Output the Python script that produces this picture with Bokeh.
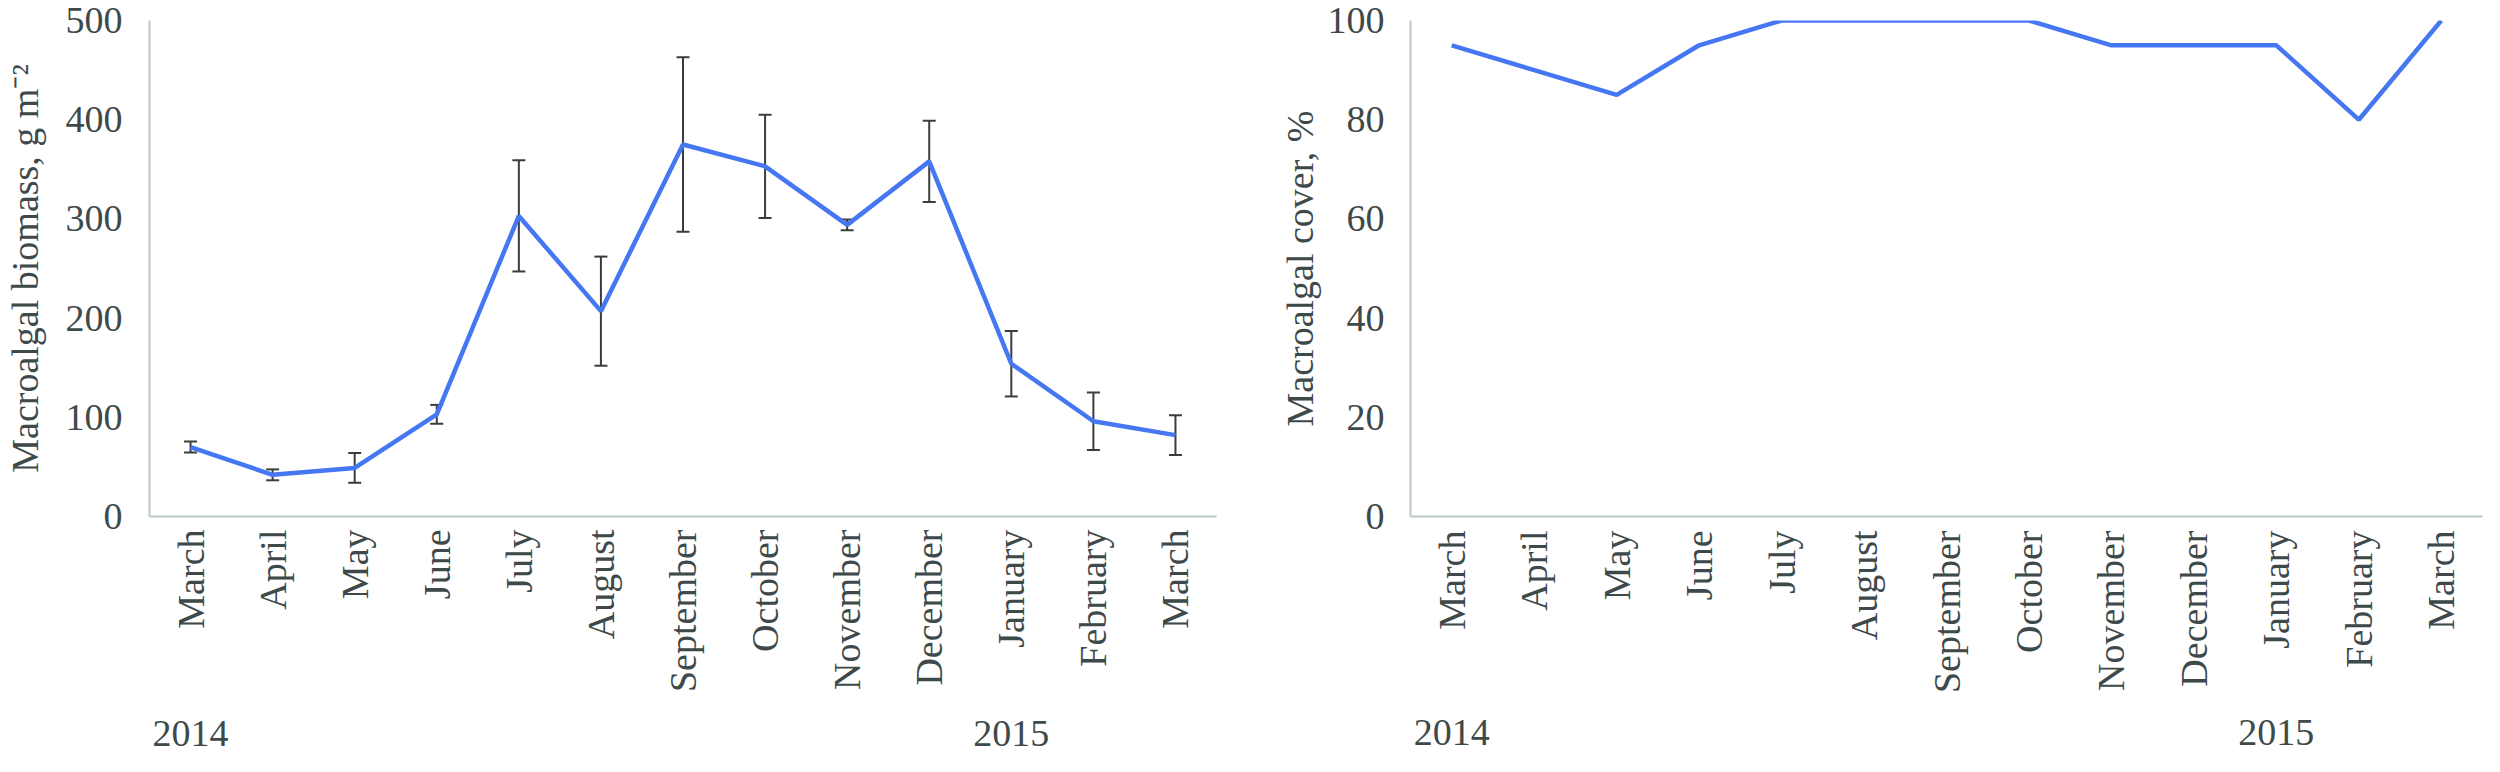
from bokeh.plotting import figure
from bokeh.models import (FactorRange, Range1d, Whisker, ColumnDataSource, TeeHead,
                          CategoricalAxis)
from bokeh.layouts import row
from bokeh.embed import file_html
from bokeh.resources import INLINE

# ---- data ----
months = ["March", "April", "May", "June", "July", "August", "September",
          "October", "November", "December", "January", "February", "March"]
years = ["2014"] * 10 + ["2015"] * 3
biomass = [70, 42, 49, 103, 303, 207, 375, 353, 294, 358, 154, 96, 82]
biomass_err = [5.5, 5.5, 15, 9.5, 56, 55, 88, 52, 5.5, 41, 33, 29, 20]
cover = [95, 90, 85, 95, 100, 100, 100, 100, 95, 95, 95, 80, 100]
biomass_ticks = [0, 100, 200, 300, 400, 500]
cover_ticks = [0, 20, 40, 60, 80, 100]

ZW = "\u200b"
# month factors (unique, repeats padded with zero-width spaces)
factors = []
for m in months:
    f = m
    while f in factors:
        f += ZW
    factors.append(f)
# year factors: the year under its first month, blanks elsewhere
year_factors = []
for i, y in enumerate(years):
    year_factors.append(y if y not in year_factors else ZW * (i + 1))

FONT = "Liberation Serif"
TXT = "#3e494a"
AXIS = "#bcc7c7"
BLUE = "#4677F2"
ERR = "#3a3d3d"
FS = "38px"


def base_axis(ax):
    ax.major_tick_line_color = None
    ax.minor_tick_line_color = None
    ax.major_tick_out = 0
    ax.major_tick_in = 0
    ax.minor_tick_out = 0
    ax.minor_tick_in = 0
    ax.major_label_text_font = FONT
    ax.major_label_text_font_size = FS
    ax.major_label_text_color = TXT


def style(p, ylabel, ticks, ystand, lstand, xstand, ystand2):
    p.xgrid.visible = False
    p.ygrid.visible = False
    p.outline_line_color = None
    p.background_fill_color = "white"
    p.border_fill_color = "white"
    for ax in (p.xaxis[0], p.yaxis[0]):
        base_axis(ax)
        ax.axis_line_color = AXIS
        ax.axis_line_width = 2
    p.yaxis.ticker = ticks
    p.yaxis.major_label_standoff = ystand
    p.yaxis.axis_label = ylabel
    p.yaxis.axis_label_text_font = FONT
    p.yaxis.axis_label_text_font_size = FS
    p.yaxis.axis_label_text_font_style = "normal"
    p.yaxis.axis_label_text_color = TXT
    p.yaxis.axis_label_standoff = lstand
    p.xaxis.major_label_orientation = 3.14159265 / 2
    p.xaxis.major_label_standoff = xstand
    p.extra_x_ranges = {"yr": FactorRange(*year_factors)}
    yax = CategoricalAxis(x_range_name="yr")
    base_axis(yax)
    yax.axis_line_color = None
    yax.major_label_standoff = ystand2
    p.add_layout(yax, "below")


p1 = figure(width=1260, height=756, x_range=FactorRange(*factors), title=None,
            y_range=Range1d(0, 500), output_backend="svg", toolbar_location=None,
            min_border_left=145, min_border_right=44, min_border_top=10,
            min_border_bottom=235)
style(p1, "Macroalgal biomass, g m\u207b\u00b2", biomass_ticks, 27, 17, 13, 16)

src1 = ColumnDataSource(dict(
    x=factors, y=biomass,
    upper=[v + e for v, e in zip(biomass, biomass_err)],
    lower=[v - e for v, e in zip(biomass, biomass_err)]))
p1.add_layout(Whisker(base="x", upper="upper", lower="lower", source=src1,
                      line_color=ERR, line_width=2,
                      upper_head=TeeHead(size=13, line_color=ERR, line_width=2),
                      lower_head=TeeHead(size=13, line_color=ERR, line_width=2)))
p1.line(x="x", y="y", source=src1, line_color=BLUE, line_width=4.5)

p2 = figure(width=1224, height=756, x_range=FactorRange(*factors), title=None,
            y_range=Range1d(0, 100), output_backend="svg", toolbar_location=None,
            min_border_left=150, min_border_right=2, min_border_top=20,
            min_border_bottom=224)
style(p2, "Macroalgal cover, %", cover_ticks, 26, 4, 14, 14)
src2 = ColumnDataSource(dict(x=factors, y=cover))
p2.line(x="x", y="y", source=src2, line_color=BLUE, line_width=4.5)

layout = row(p1, p2)
open("out.html", "w").write(file_html(layout, INLINE))
